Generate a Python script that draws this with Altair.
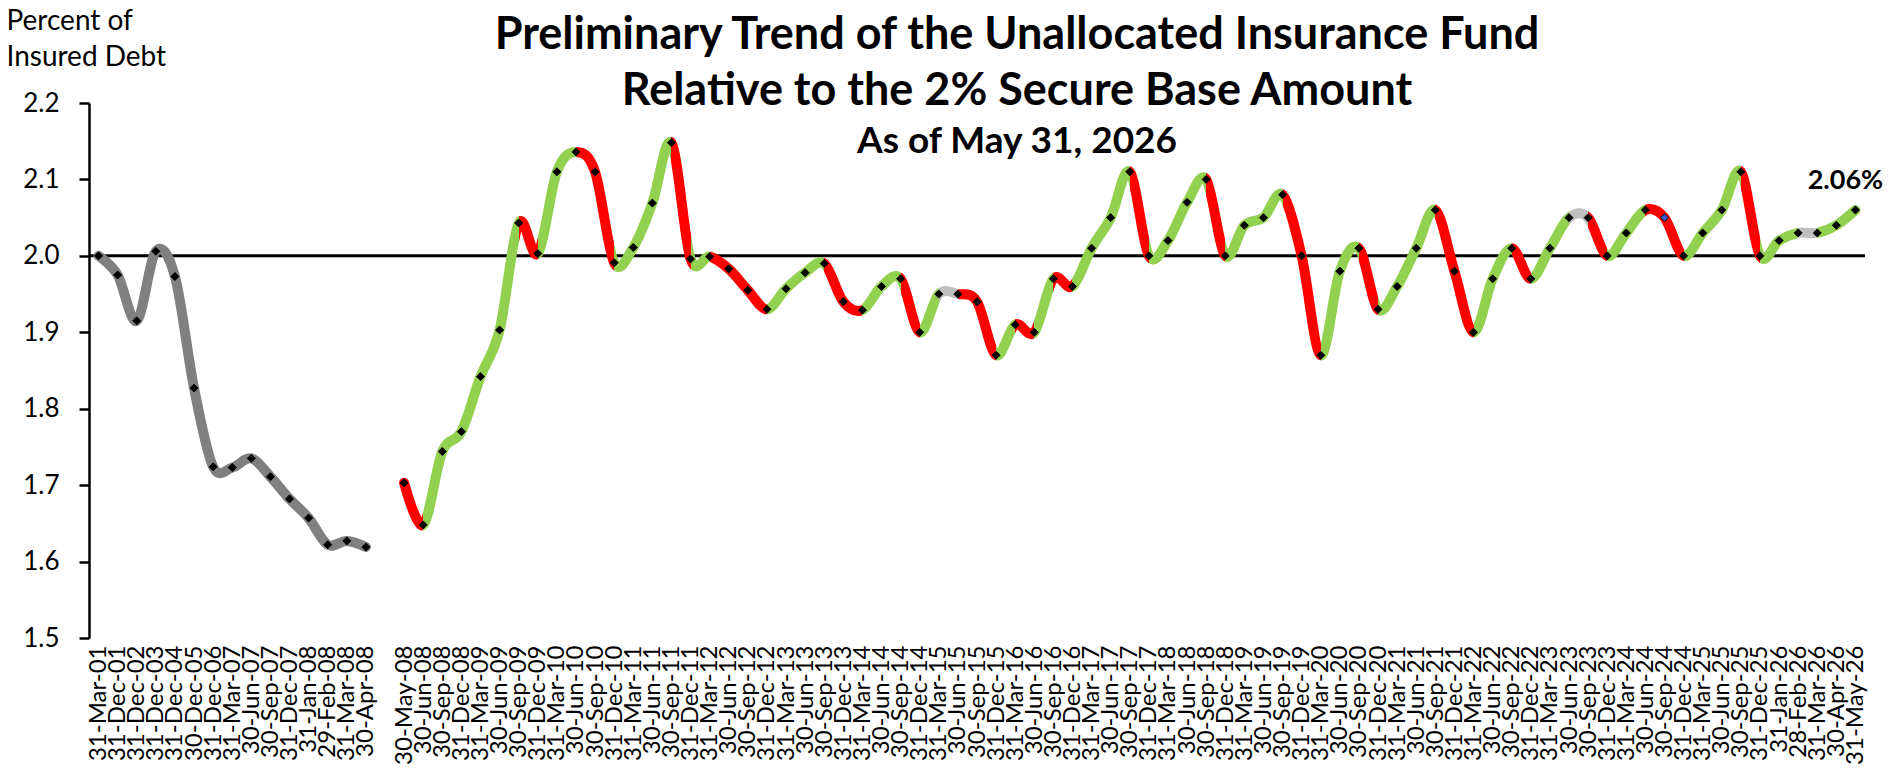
import altair as alt
import pandas as pd

# ---------------- data ----------------
categories = [
    "31-Mar-01", "31-Dec-01", "31-Dec-02", "31-Dec-03", "31-Dec-04", "30-Dec-05",
    "31-Dec-06", "31-Mar-07", "30-Jun-07", "30-Sep-07", "31-Dec-07", "31-Jan-08",
    "29-Feb-08", "31-Mar-08", "30-Apr-08",
    " ",
    "30-May-08", "30-Jun-08", "30-Sep-08", "31-Dec-08",
    "31-Mar-09", "30-Jun-09", "30-Sep-09", "31-Dec-09",
    "31-Mar-10", "30-Jun-10", "30-Sep-10", "31-Dec-10",
    "31-Mar-11", "30-Jun-11", "30-Sep-11", "31-Dec-11",
    "31-Mar-12", "30-Jun-12", "30-Sep-12", "31-Dec-12",
    "31-Mar-13", "30-Jun-13", "30-Sep-13", "31-Dec-13",
    "31-Mar-14", "30-Jun-14", "30-Sep-14", "31-Dec-14",
    "31-Mar-15", "30-Jun-15", "30-Sep-15", "31-Dec-15",
    "31-Mar-16", "30-Jun-16", "30-Sep-16", "31-Dec-16",
    "31-Mar-17", "30-Jun-17", "30-Sep-17", "31-Dec-17",
    "31-Mar-18", "30-Jun-18", "30-Sep-18", "31-Dec-18",
    "31-Mar-19", "30-Jun-19", "30-Sep-19", "31-Dec-19",
    "31-Mar-20", "30-Jun-20", "30-Sep-20", "31-Dec-20",
    "31-Mar-21", "30-Jun-21", "30-Sep-21", "31-Dec-21",
    "31-Mar-22", "30-Jun-22", "30-Sep-22", "31-Dec-22",
    "31-Mar-23", "30-Jun-23", "30-Sep-23", "31-Dec-23",
    "31-Mar-24", "30-Jun-24", "30-Sep-24", "31-Dec-24",
    "31-Mar-25", "30-Jun-25", "30-Sep-25", "31-Dec-25",
    "31-Jan-26", "28-Feb-26", "31-Mar-26", "30-Apr-26", "31-May-26",
]

fund_ratio = [
    2.000, 1.975, 1.915, 2.006, 1.973, 1.827, 1.724, 1.723, 1.735, 1.711,
    1.682, 1.657, 1.622, 1.627, 1.619,
    None,
    1.703, 1.648, 1.744, 1.770,
    1.842, 1.903, 2.043, 2.003,
    2.110, 2.136, 2.110, 1.991,
    2.011, 2.069, 2.148, 1.996,
    1.999, 1.983, 1.955, 1.930,
    1.957, 1.978, 1.990, 1.940,
    1.929, 1.960, 1.970, 1.900,
    1.950, 1.950, 1.940, 1.870,
    1.910, 1.900, 1.970, 1.960,
    2.010, 2.050, 2.110, 2.000,
    2.020, 2.070, 2.100, 2.000,
    2.040, 2.050, 2.080, 2.000,
    1.870, 1.980, 2.010, 1.930,
    1.960, 2.010, 2.060, 1.980,
    1.900, 1.970, 2.010, 1.970,
    2.010, 2.050, 2.050, 2.000,
    2.030, 2.060, 2.050, 2.000,
    2.030, 2.060, 2.110, 2.000,
    2.020, 2.030, 2.030, 2.040, 2.060,
]

reference_level = [2.0]
y_ticks = [1.5, 1.6, 1.7, 1.8, 1.9, 2.0, 2.1, 2.2]
highlight_marker = {"30-Sep-24": "#3B55D0"}

title_lines = ["Preliminary Trend of the Unallocated Insurance Fund",
               "Relative to the 2% Secure Base Amount"]
subtitle_line = "As of May 31, 2026"
y_title = ["Percent of", "Insured Debt"]

# ---------------- styles ----------------
GREEN = "#92D050"
RED = "#FF0000"
FLAT = "#BFBFBF"
HIST = "#808080"
FONT = "Lato"

gap_i = categories.index(" ")
rows = []
for i, (c, v) in enumerate(zip(categories, fund_ratio)):
    part = "pre" if i < gap_i else ("gap" if i == gap_i else "post")
    rows.append({
        "cat": c,
        "value": v,
        "part": part,
        "marker": highlight_marker.get(c, "#000000"),
        "last": i == len(categories) - 1,
    })
df = pd.DataFrame(rows)

# segment colours of the post-2008 line: up = green, down = red, flat = grey
post_vals = [v for v, r in zip(fund_ratio, rows) if r["part"] == "post"]
nseg = len(post_vals) - 1
stops = []
for k in range(nseg):
    a, b = post_vals[k], post_vals[k + 1]
    col = GREEN if b > a else (RED if b < a else FLAT)
    stops.append({"offset": k / nseg, "color": col})
    stops.append({"offset": (k + 1) / nseg, "color": col})
gradient = {"gradient": "linear", "x1": 0, "y1": 0, "x2": 1, "y2": 0, "stops": stops}

x_enc = alt.X(
    "cat:N",
    scale=alt.Scale(type="point", domain=categories, padding=0.5),
    axis=alt.Axis(
        title=None, labelAngle=-90, labelFont=FONT, labelFontSize=24,
        labelColor="black", labelPadding=7, domain=False, ticks=False,
        labelOverlap=False, grid=False,
    ),
)
y_enc = alt.Y(
    "value:Q",
    scale=alt.Scale(domain=[1.5, 2.2], nice=False, zero=False),
    axis=alt.Axis(
        values=y_ticks, format=".1f", grid=False,
        title=y_title, titleAngle=0, titleAlign="left", titleBaseline="alphabetic",
        titleX=-83, titleY=-74, titleFont=FONT, titleFontSize=28,
        titleFontWeight="normal", titleLineHeight=36, titleColor="black",
        labelFont=FONT, labelFontSize=26, labelColor="black", labelPadding=20,
        tickSize=10, tickWidth=2.5, tickColor="black",
        domainColor="black", domainWidth=2.5,
    ),
)

base = alt.Chart(df).encode(x=x_enc, y=y_enc)

rule = alt.Chart(pd.DataFrame({"value": reference_level})).mark_rule(
    color="black", strokeWidth=3
).encode(y=y_enc)

pre_line = base.transform_filter("datum.part == 'pre'").mark_line(
    interpolate="cardinal", stroke=HIST, strokeWidth=10,
    strokeCap="round", strokeJoin="round",
)

post_line = base.transform_filter("datum.part == 'post'").mark_line(
    interpolate="cardinal", stroke=gradient, strokeWidth=10,
    strokeCap="round", strokeJoin="round",
)

points = base.transform_filter("isValid(datum.value)").mark_point(
    shape="diamond", filled=True, size=64, opacity=1, stroke="black", strokeWidth=1,
).encode(fill=alt.Fill("marker:N", scale=None))

last_label = base.transform_filter("datum.last").transform_calculate(
    txt="format(datum.value, '.2f') + '%'"
).mark_text(
    font=FONT, fontSize=27, fontWeight="bold", color="black",
    align="center", baseline="alphabetic", dx=-10, dy=-21,
).encode(text="txt:N")

chart = alt.layer(rule, pre_line, post_line, points, last_label).properties(
    width=1776,
    height=535,
    padding={"left": 81, "top": 95, "right": 18, "bottom": 131},
    autosize=alt.AutoSizeParams(type="none"),
    title=alt.TitleParams(
        text=title_lines, subtitle=subtitle_line,
        font=FONT, fontSize=45, fontWeight="bold", color="black", lineHeight=56,
        subtitleFont=FONT, subtitleFontSize=37, subtitleFontWeight="bold",
        subtitleColor="black", subtitlePadding=10,
        anchor="middle", frame="group", offset=-153, dx=40,
    ),
).configure_view(stroke=None)

chart.save("out.html", embed_options={"renderer": "svg", "actions": False})
